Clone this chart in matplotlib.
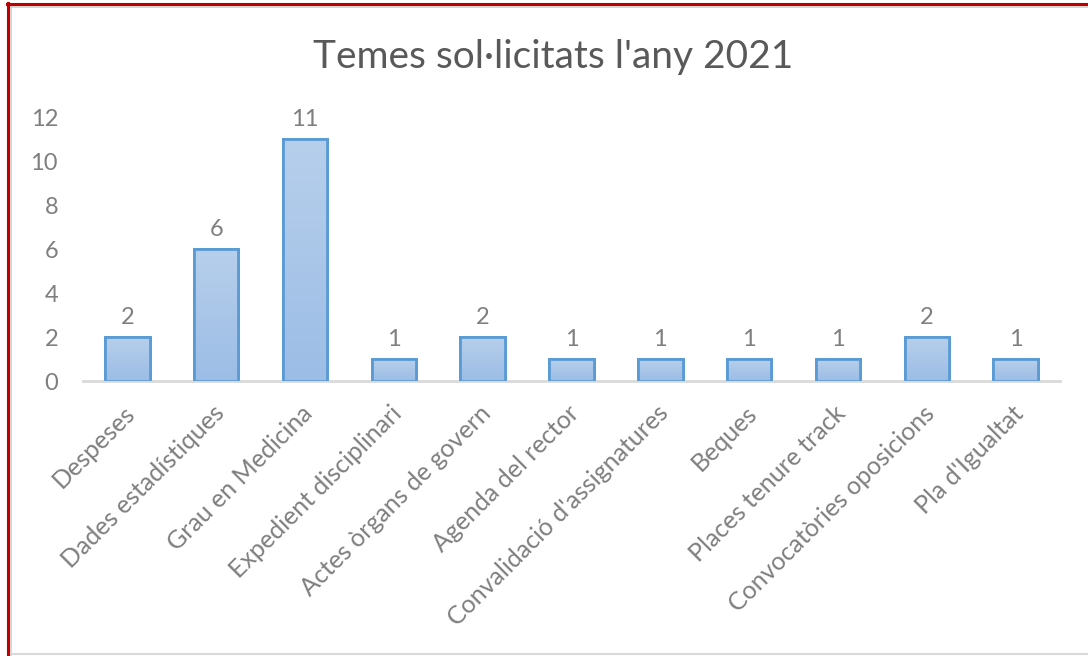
import matplotlib
matplotlib.use("Agg")
import matplotlib.pyplot as plt
import matplotlib.transforms as mtransforms
import numpy as np
from matplotlib.lines import Line2D
from matplotlib.colors import LinearSegmentedColormap

categories = ["Despeses", "Dades estadístiques", "Grau en Medicina", "Expedient disciplinari",
              "Actes òrgans de govern", "Agenda del rector", "Convalidació d'assignatures",
              "Beques", "Places tenure track", "Convocatòries oposicions", "Pla d'Igualtat"]
values = [2, 6, 11, 1, 2, 1, 1, 1, 1, 2, 1]
yticks = [0, 2, 4, 6, 8, 10, 12]
title = "Temes sol·licitats l'any 2021"

plt.rcParams['font.family'] = ['Lato', 'DejaVu Sans']

W, H = 1088, 656
fig = plt.figure(figsize=(W / 100, H / 100), dpi=100)
fig.patch.set_facecolor('white')

x0, x1, ytop, ybot = 83, 1060, 117, 381
ax = fig.add_axes([x0 / W, 1 - ybot / H, (x1 - x0) / W, (ybot - ytop) / H])

x = np.arange(len(categories))
bars = ax.bar(x, values, width=0.5, color='#a8c5e8', edgecolor='#5b9bd5', linewidth=2, zorder=2)

grad = np.linspace(0, 1, 256).reshape(-1, 1)
cmap = LinearSegmentedColormap.from_list('g', ['#9cbde6', '#b7cfeb'])
for b in bars:
    bx, by = b.get_x(), b.get_y()
    bw, bh = b.get_width(), b.get_height()
    im = ax.imshow(grad, extent=[bx, bx + bw, by, by + bh], origin='lower', cmap=cmap,
                   aspect='auto', zorder=2.5)
    im.set_clip_path(b)
    ax.bar(bx + bw / 2, bh, width=bw, facecolor='none', edgecolor='#5b9bd5', linewidth=2, zorder=3)

for xi, v in zip(x, values):
    ax.text(xi, v + 0.4, str(v), ha='center', va='bottom', fontsize=17, color='#7f7f7f')

ax.set_xlim(-0.5, len(categories) - 0.5)
ax.set_ylim(0, 12)
ax.set_yticks(yticks)
ax.set_yticklabels([str(t) for t in yticks], fontsize=17, color='#7f7f7f')
ax.set_xticks(x)
ax.set_xticklabels(categories, rotation=45, ha='right', rotation_mode='anchor',
                   fontsize=18, color='#7f7f7f')
ax.tick_params(axis='both', length=0)
ax.tick_params(axis='y', pad=18)
ax.tick_params(axis='x', pad=14)
offset = mtransforms.ScaledTranslation(-4 / 100, -1 / 100, fig.dpi_scale_trans)
for lab in ax.get_xticklabels():
    lab.set_transform(lab.get_transform() + offset)
for s in ['top', 'right', 'left']:
    ax.spines[s].set_visible(False)
ax.spines['bottom'].set_color('#d9d9d9')
ax.spines['bottom'].set_linewidth(2)
ax.set_facecolor('white')

fig.text(553 / W, 1 - 57 / H, title, ha='center', va='center', fontsize=28, color='#595959')

def hline(y, xa, xb, c, lw):
    fig.add_artist(Line2D([xa / W, xb / W], [1 - y / H, 1 - y / H], color=c, lw=lw, transform=fig.transFigure))
def vline(xp, ya, yb, c, lw):
    fig.add_artist(Line2D([xp / W, xp / W], [1 - ya / H, 1 - yb / H], color=c, lw=lw, transform=fig.transFigure))

hline(6.5, 10, W, '#d0d0d0', 1.2)
vline(10.5, 6, H, '#d0d0d0', 1.2)
hline(654, 10, W, '#d9d9d9', 1.5)
hline(4, 7, W, '#c00000', 2.2)
vline(8, 3, H, '#c00000', 2.2)

fig.savefig('out.png', dpi=100)
